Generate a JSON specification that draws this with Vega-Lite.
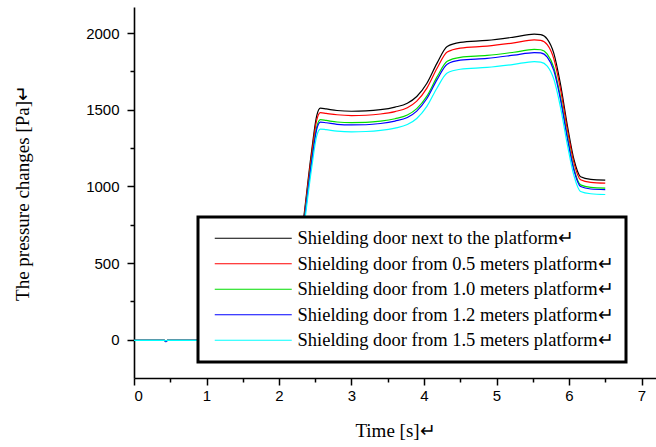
{
  "$schema": "https://vega.github.io/schema/vega-lite/v6.json",
  "width": 522,
  "height": 371,
  "padding": {"left": 13, "top": 7, "right": 0, "bottom": 0},
  "background": "white",
  "config": {
    "view": {"stroke": null},
    "axis": {
      "labelFont": "Liberation Sans",
      "labelFontSize": 15,
      "labelColor": "black",
      "titleFont": "Liberation Serif",
      "titleFontSize": 19,
      "titleFontWeight": "normal",
      "titleColor": "black",
      "domainColor": "black",
      "domainWidth": 1.6,
      "tickColor": "black",
      "tickWidth": 1.5,
      "grid": false
    }
  },
  "data": {
    "values": [
      {"t": 0, "b": -4, "r": -4, "g": -4, "l": -4, "c": -4},
      {"t": 0.42, "b": -4, "r": -4, "g": -4, "l": -4, "c": -4},
      {"t": 0.44, "b": -12, "r": -12, "g": -12, "l": -14, "c": -8},
      {"t": 0.46, "b": -4, "r": -4, "g": -4, "l": -4, "c": -4},
      {"t": 1.0, "b": -4, "r": -4, "g": -4, "l": -4, "c": -4},
      {"t": 2.08, "b": -2, "r": -2, "g": -2, "l": -2, "c": -2},
      {"t": 2.15, "b": 50, "r": 49, "g": 48, "l": 47, "c": 46},
      {"t": 2.25, "b": 430, "r": 422, "g": 409, "l": 404, "c": 391},
      {"t": 2.35, "b": 830, "r": 814, "g": 789, "l": 780, "c": 755},
      {"t": 2.45, "b": 1230, "r": 1207, "g": 1169, "l": 1156, "c": 1119},
      {"t": 2.52, "b": 1460, "r": 1432, "g": 1387, "l": 1372, "c": 1329},
      {"t": 2.57, "b": 1510, "r": 1481, "g": 1435, "l": 1419, "c": 1374},
      {"t": 2.65, "b": 1505, "r": 1476, "g": 1430, "l": 1415, "c": 1370},
      {"t": 2.8, "b": 1495, "r": 1467, "g": 1420, "l": 1405, "c": 1360},
      {"t": 3.0, "b": 1490, "r": 1462, "g": 1416, "l": 1401, "c": 1356},
      {"t": 3.2, "b": 1492, "r": 1464, "g": 1417, "l": 1402, "c": 1358},
      {"t": 3.4, "b": 1500, "r": 1472, "g": 1425, "l": 1410, "c": 1365},
      {"t": 3.6, "b": 1517, "r": 1488, "g": 1441, "l": 1426, "c": 1380},
      {"t": 3.77, "b": 1542, "r": 1513, "g": 1465, "l": 1449, "c": 1403},
      {"t": 3.9, "b": 1586, "r": 1556, "g": 1507, "l": 1491, "c": 1443},
      {"t": 4.04, "b": 1673, "r": 1641, "g": 1589, "l": 1573, "c": 1522},
      {"t": 4.18, "b": 1804, "r": 1770, "g": 1714, "l": 1696, "c": 1642},
      {"t": 4.32, "b": 1912, "r": 1876, "g": 1816, "l": 1797, "c": 1740},
      {"t": 4.5, "b": 1939, "r": 1902, "g": 1842, "l": 1823, "c": 1764},
      {"t": 4.87, "b": 1952, "r": 1915, "g": 1854, "l": 1835, "c": 1776},
      {"t": 5.24, "b": 1974, "r": 1936, "g": 1875, "l": 1856, "c": 1796},
      {"t": 5.52, "b": 1993, "r": 1955, "g": 1893, "l": 1873, "c": 1814},
      {"t": 5.61, "b": 1990, "r": 1952, "g": 1891, "l": 1871, "c": 1811},
      {"t": 5.7, "b": 1961, "r": 1924, "g": 1863, "l": 1843, "c": 1785},
      {"t": 5.79, "b": 1869, "r": 1833, "g": 1776, "l": 1757, "c": 1701},
      {"t": 5.88, "b": 1673, "r": 1641, "g": 1589, "l": 1573, "c": 1522},
      {"t": 5.98, "b": 1390, "r": 1364, "g": 1321, "l": 1307, "c": 1265},
      {"t": 6.07, "b": 1172, "r": 1150, "g": 1113, "l": 1102, "c": 1067},
      {"t": 6.16, "b": 1063, "r": 1043, "g": 1010, "l": 999, "c": 967},
      {"t": 6.3, "b": 1046, "r": 1026, "g": 994, "l": 983, "c": 952},
      {"t": 6.5, "b": 1041, "r": 1021, "g": 989, "l": 979, "c": 947}
    ]
  },
  "transform": [{"fold": ["b", "r", "g", "l", "c"], "as": ["door", "p"]}],
  "layer": [
    {
      "mark": {"type": "line", "strokeWidth": 1.2, "interpolate": "monotone"},
      "encoding": {
        "x": {
          "field": "t", "type": "quantitative",
          "scale": {"domain": [0, 7.2], "nice": false, "zero": false},
          "axis": {"values": [0, 1, 2, 3, 4, 5, 6, 7], "format": "d", "tickSize": 7, "labelPadding": 3, "title": "Time [s]\u21b5", "titlePadding": 18}
        },
        "y": {
          "field": "p", "type": "quantitative",
          "scale": {"domain": [-250, 2170], "nice": false, "zero": false},
          "axis": {"values": [0, 500, 1000, 1500, 2000], "format": "d", "tickSize": 7, "labelPadding": 8, "title": "The pressure changes [Pa]\u21b5", "titlePadding": 53}
        },
        "color": {
          "field": "door", "type": "nominal",
          "scale": {"domain": ["b", "r", "g", "l", "c"], "range": ["#000000", "#ff0000", "#00dd00", "#0000ff", "#00ffff"]},
          "legend": {
            "orient": "none", "legendX": 64, "legendY": 210,
            "title": null,
            "symbolType": "M-7.7,0H7.7", "symbolSize": 100, "symbolStrokeWidth": 1.2,
            "symbolOffset": 34,
            "labelFont": "Liberation Serif", "labelFontSize": 18.5, "labelColor": "black", "labelLimit": 0,
            "labelOffset": 35,
            "strokeColor": "black", "fillColor": "white", "padding": 12, "rowPadding": 6.5,
            "labelExpr": "{'b':'Shielding door next to the platform\u21b5','r':'Shielding door from 0.5 meters platform\u21b5','g':'Shielding door from 1.0 meters platform\u21b5','l':'Shielding door from 1.2 meters platform\u21b5','c':'Shielding door from 1.5 meters platform\u21b5'}[datum.value]",
            "encode": {
              "legend": {"update": {"strokeWidth": {"value": 3}}}
            }
          }
        }
      }
    },
    {
      "mark": {"type": "line", "opacity": 0},
      "encoding": {
        "x": {"field": "t", "type": "quantitative", "axis": {"orient": "bottom", "values": [0.5, 1.5, 2.5, 3.5, 4.5, 5.5, 6.5], "labels": false, "tickSize": 4, "domain": false, "title": null}},
        "y": {"field": "p", "type": "quantitative", "axis": {"orient": "left", "values": [250, 750, 1250, 1750], "labels": false, "tickSize": 4, "domain": false, "title": null}},
        "detail": {"field": "door"}
      }
    }
  ],
  "resolve": {"axis": {"x": "independent", "y": "independent"}}
}
